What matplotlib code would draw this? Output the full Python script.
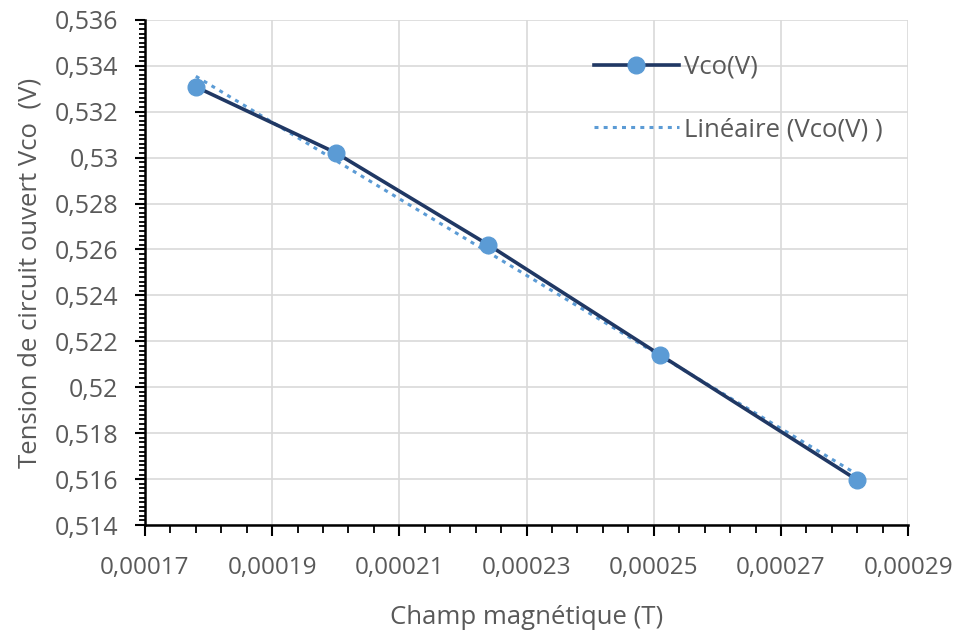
import matplotlib.pyplot as plt
from matplotlib.ticker import MultipleLocator, FuncFormatter
import numpy as np

# mesures
champ = [0.000178, 0.0002, 0.000224, 0.000251, 0.000282]
vco = [0.53308, 0.53021, 0.5262, 0.52141, 0.51596]

gris = '#595959'
plt.rcParams['font.family'] = ['Open Sans', 'DejaVu Sans']


def virgule(val, pos, nd):
    s = f'{val:.{nd}f}'.rstrip('0').rstrip('.')
    return s.replace('.', ',')


fig = plt.figure(figsize=(9.6, 6.38), dpi=100)
ax = fig.add_axes([0.151, 0.177, 0.795, 0.792])

ax.plot(champ, vco, color='#203864', lw=2.6, marker='o', ms=12,
        mfc='#5B9BD5', mec='#5B9BD5', label='Vco(V)', zorder=3)

# droite de tendance
a, b = np.polyfit(champ, vco, 1)
xt = np.array([champ[0], champ[-1]])
ax.plot(xt, a * xt + b, color='#5B9BD5', lw=2.2, ls=(0, (1.3, 1.7)),
        label='Linéaire (Vco(V) )', zorder=2)

ax.set_xlim(0.00017, 0.00029)
ax.set_ylim(0.514, 0.536)
ax.xaxis.set_major_locator(MultipleLocator(0.00002, offset=0.00001))
ax.xaxis.set_minor_locator(MultipleLocator(0.000004, offset=0.00001))
ax.yaxis.set_major_locator(MultipleLocator(0.002))
ax.yaxis.set_minor_locator(MultipleLocator(0.0002))
ax.xaxis.set_major_formatter(FuncFormatter(lambda v, p: virgule(v, p, 5)))
ax.yaxis.set_major_formatter(FuncFormatter(lambda v, p: virgule(v, p, 3)))

ax.grid(True, which='major', color='#d9d9d9', lw=1.2)
ax.set_axisbelow(True)
for s in ['top', 'right']:
    ax.spines[s].set_visible(False)
for s in ['left', 'bottom']:
    ax.spines[s].set_linewidth(1.8)

ax.tick_params(axis='x', which='major', length=8, width=1.5, pad=14,
               labelsize=17.5, labelcolor=gris)
ax.tick_params(axis='x', which='minor', length=6, width=1.3)
ax.tick_params(axis='y', which='major', length=7, width=1.5, pad=12,
               labelsize=18, labelcolor=gris)
ax.tick_params(axis='y', which='minor', length=4, width=1.3)

ax.set_xlabel('Champ magnétique (T)', fontsize=18.5, color=gris, labelpad=18)
ax.set_ylabel('Tension de circuit ouvert Vco  (V)', fontsize=18.5, color=gris, labelpad=9)

leg = ax.legend(loc='upper left', bbox_to_anchor=(581 / 960, 1 - 42 / 638),
                bbox_transform=fig.transFigure, frameon=False, borderpad=0,
                fontsize=18.5, handlelength=3.3, labelspacing=1.45, handletextpad=0.2,
                labelcolor=gris)

fig.savefig('out.png', dpi=100)
